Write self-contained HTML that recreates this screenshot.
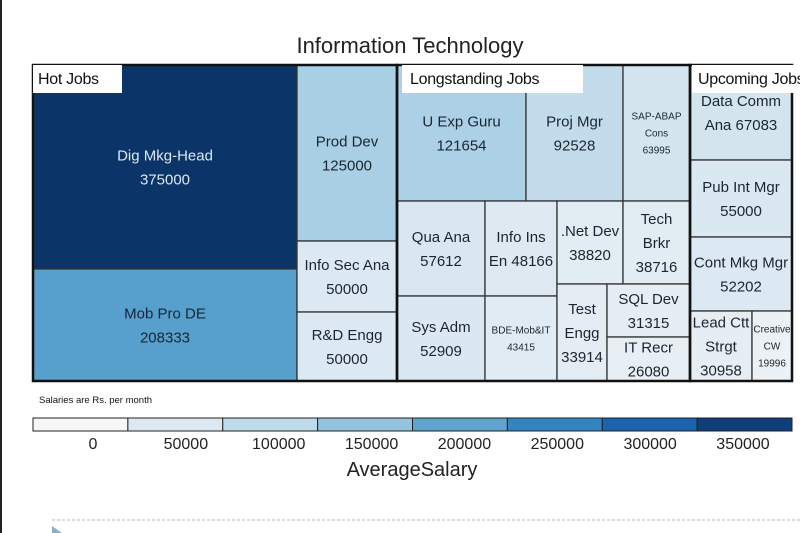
<!DOCTYPE html>
<html><head><meta charset="utf-8">
<style>
html,body{margin:0;padding:0;background:#fff;}
body{width:800px;height:533px;overflow:hidden;position:relative;font-family:"Liberation Sans",Arial,sans-serif;}
svg{position:absolute;left:0;top:0;}
</style></head>
<body>
<svg id="chart" width="800" height="533" viewBox="0 0 800 533">
  <line x1="1" y1="0" x2="1" y2="533" stroke="#222" stroke-width="2"/>
  <text x="410" y="53" text-anchor="middle" font-size="22" fill="#222">Information Technology</text>
  <g id="cells"></g>
  <g id="groups"></g>
  <rect x="33" y="65" width="89" height="28" fill="#fff"/>
  <text x="38" y="84" font-size="16" letter-spacing="-0.3" fill="#111">Hot Jobs</text>
  <rect x="402" y="65" width="181" height="28" fill="#fff"/>
  <text x="410" y="84" font-size="16" letter-spacing="-0.3" fill="#111">Longstanding Jobs</text>
  <rect x="692" y="65" width="108" height="28" fill="#fff"/>
  <text x="698" y="84" font-size="16" letter-spacing="-0.3" fill="#111">Upcoming Jobs</text>
  <text x="39" y="403" font-size="9.5" fill="#111">Salaries are Rs. per month</text>
  <g id="legend"></g>
  <text x="412" y="476" text-anchor="middle" font-size="20" fill="#222">AverageSalary</text>
  <line x1="52" y1="520" x2="800" y2="520" stroke="#9bb8cc" stroke-width="1" stroke-dasharray="3,2"/>
  <polygon points="52,526 52,533 62,533" fill="#8fb0cc"/>
</svg>
<script>
// ---- data ----
const jobNames = ["Dig Mkg-Head","Mob Pro DE","Prod Dev","Info Sec Ana","R&D Engg",
  "U Exp Guru","Proj Mgr","SAP-ABAP Cons","Qua Ana","Sys Adm","Info Ins En","BDE-Mob&IT",".Net Dev","Tech Brkr","Test Engg","SQL Dev","IT Recr",
  "Data Comm Ana","Pub Int Mgr","Cont Mkg Mgr","Lead Ctt Strgt","Creative CW"];
const salaries = [375000,208333,125000,50000,50000,
  121654,92528,63995,57612,52909,48166,43415,38820,38716,33914,31315,26080,
  67083,55000,52202,30958,19996];
const sizes = [53856,29568,17600,7100,6900,
  17544,13192,9112,8360,7480,6840,6120,5478,5561,4850,4399,3652,
  9690,7854,7548,4340,2800];
const labelFormats = ["Dig Mkg-Head|{v}","Mob Pro DE|{v}","Prod Dev|{v}","Info Sec Ana|{v}","R&D Engg|{v}",
  "U Exp Guru|{v}","Proj Mgr|{v}","SAP-ABAP|Cons|{v}","Qua Ana|{v}","Sys Adm|{v}","Info Ins|En {v}","BDE-Mob&IT|{v}",".Net Dev|{v}","Tech|Brkr|{v}","Test|Engg|{v}","SQL Dev|{v}","IT Recr|{v}",
  "Data Comm|Ana {v}","Pub Int Mgr|{v}","Cont Mkg Mgr|{v}","Lead Ctt|Strgt|{v}","Creative|CW|{v}"];
const smallLabel = [7,11,21];
const legendTicks = [0,50000,100000,150000,200000,250000,300000,350000];
const legendColors = ["#f5f6f7","#dde9f2","#bfdaea","#93c3df","#5ea4cf","#3484c2","#1c63ae","#0e3f7b"];
const scaleStops = ["#f5f6f7","#dde9f2","#bfdaea","#93c3df","#5ea4cf","#3484c2","#1c63ae","#0e3f7b","#072a56"];

// layout tree (structure only; sizes come from data)
const tree = {d:'h',c:[
  {g:'hot',d:'h',c:[{d:'v',c:[0,1]},{d:'v',c:[2,3,4]}]},
  {g:'long',d:'v',c:[{d:'h',c:[5,6,7]},{d:'h',c:[{d:'v',c:[8,9]},{d:'v',c:[10,11]},{d:'v',c:[{d:'h',c:[12,13]},{d:'h',c:[14,{d:'v',c:[15,16]}]}]}]}]},
  {g:'up',d:'v',c:[17,18,19,{d:'h',c:[20,21]}]}
]};

const NS="http://www.w3.org/2000/svg";
const X0=33,Y0=65,W=759,H=316;
function hex(c){return [1,3,5].map(i=>parseInt(c.substr(i,2),16));}
function colorScale(v){
  const t=Math.max(0,Math.min(scaleStops.length-1,v/50000));
  const i=Math.min(Math.floor(t),scaleStops.length-2), f=t-i;
  const a=hex(scaleStops[i]),b=hex(scaleStops[i+1]);
  return "rgb("+a.map((x,k)=>Math.round(x+(b[k]-x)*f)).join(",")+")";
}
function total(n){return typeof n==='number'?sizes[n]:n.c.reduce((s,ch)=>s+total(ch),0);}
const rects=[],groupRects=[];
function layout(n,x,y,w,h){
  if(typeof n==='number'){rects.push({i:n,x,y,w,h});return;}
  if(n.g)groupRects.push({x,y,w,h});
  const T=total(n);let off=0;
  n.c.forEach(ch=>{const f=total(ch)/T;
    if(n.d==='h'){layout(ch,x+off,y,w*f,h);off+=w*f;}
    else{layout(ch,x,y+off,w,h*f);off+=h*f;}});
}
layout(tree,X0,Y0,W,H);

const cells=document.getElementById('cells');
rects.forEach(r=>{
  const g=document.createElementNS(NS,'g');
  
  
  const rc=document.createElementNS(NS,'rect');
  rc.setAttribute('x',r.x);rc.setAttribute('y',r.y);rc.setAttribute('width',r.w);rc.setAttribute('height',r.h);
  rc.setAttribute('fill',colorScale(salaries[r.i]));rc.setAttribute('stroke','#333');rc.setAttribute('stroke-width','1.3');
  g.appendChild(rc);
  const lines=labelFormats[r.i].replace('{v}',salaries[r.i]).split('|');
  const small=smallLabel.includes(r.i);
  const fs=small?10:15, lh=small?17:24;
  const cx=r.x+r.w/2, cy=r.y+r.h/2;
  const dark=salaries[r.i]>280000;
  lines.forEach((ln,k)=>{
    const t=document.createElementNS(NS,'text');
    t.setAttribute('x',cx);t.setAttribute('y',cy+(k-(lines.length-1)/2)*lh+fs*0.36);
    t.setAttribute('text-anchor','middle');t.setAttribute('font-size',fs);
    t.setAttribute('fill',dark?'#dde6f0':'#1c2530');
    t.textContent=ln;g.appendChild(t);
  });
  cells.appendChild(g);
});
const gg=document.getElementById('groups');
groupRects.forEach(r=>{
  const rc=document.createElementNS(NS,'rect');
  
  
  rc.setAttribute('x',r.x);rc.setAttribute('y',r.y);rc.setAttribute('width',r.w);rc.setAttribute('height',r.h);
  rc.setAttribute('fill','none');rc.setAttribute('stroke','#111');rc.setAttribute('stroke-width','2.5');
  gg.appendChild(rc);
});

// legend
const lg=document.getElementById('legend');
const LX=33,LW=759,LY=418,LH=13,segW=LW/legendColors.length;
legendColors.forEach((c,k)=>{
  const rc=document.createElementNS(NS,'rect');
  
  
  rc.setAttribute('x',LX+k*segW);rc.setAttribute('y',LY);rc.setAttribute('width',segW);rc.setAttribute('height',LH);
  rc.setAttribute('fill',c);rc.setAttribute('stroke','#222');rc.setAttribute('stroke-width','1');
  lg.appendChild(rc);
});
legendTicks.forEach((v,k)=>{
  const t=document.createElementNS(NS,'text');
  
  
  t.setAttribute('x',93+k*(650/7));t.setAttribute('y',449);
  t.setAttribute('text-anchor','middle');t.setAttribute('font-size','16');t.setAttribute('fill','#222');
  t.textContent=v;lg.appendChild(t);
});
</script>
</body></html>
